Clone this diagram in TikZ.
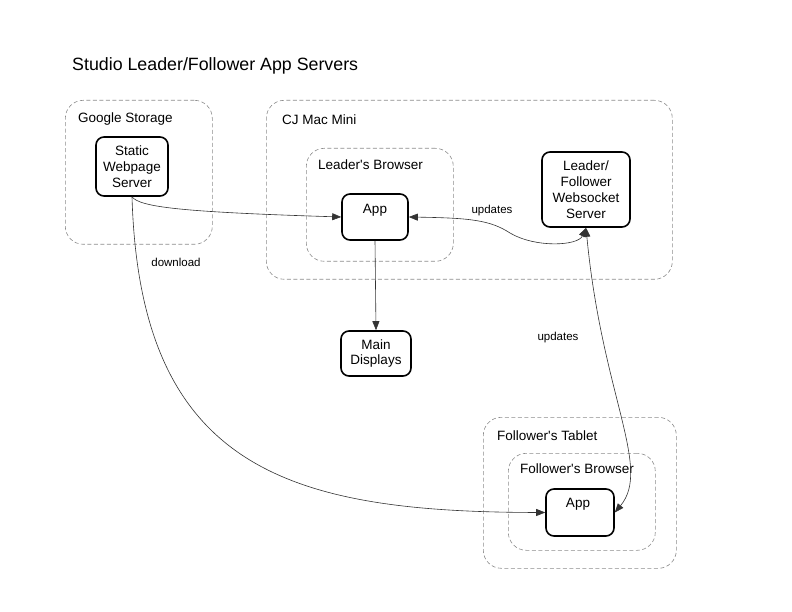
\documentclass[tikz,border=0pt]{standalone}
\usepackage{fontspec}
\setmainfont{Liberation Sans}
\usetikzlibrary{arrows.meta}
\tikzset{
  container/.style={draw=black!45, dash pattern=on 4pt off 2.5pt, rounded corners=18pt, line width=0.6pt, anchor=north west, inner sep=0pt},
  box/.style={draw=black, line width=1.6pt, rounded corners=8pt, align=center, inner sep=0pt, font=\fontsize{13.5}{15.8}\selectfont},
  lab/.style={anchor=west, inner sep=0pt, font=\fontsize{13.5}{15}\selectfont},
  small/.style={inner sep=0pt, font=\fontsize{11.5}{13}\selectfont},
  conn/.style={draw=black!80, line width=0.6pt},
  tipend/.style={-{Triangle[length=9pt,width=7pt]}},
  tipboth/.style={{Triangle[length=9pt,width=7pt]}-{Triangle[length=9pt,width=7pt]}}
}
\begin{document}
\begin{tikzpicture}[x=1pt,y=-1pt]
\useasboundingbox[fill=white] (0,0) rectangle (792,612);

\node[anchor=west, inner sep=0pt, font=\fontsize{17.8}{20}\selectfont] (title) at (72,66) {Studio Leader/Follower App Servers};

% containers
\node[container, minimum width=147pt, minimum height=144pt] (gs) at (65,100) {};
\node[lab] (gsl) at (78,119) {Google Storage};
\node[container, minimum width=406pt, minimum height=179pt] (cj) at (266,100) {};
\node[lab] (cjl) at (282,120) {CJ Mac Mini};
\node[container, minimum width=147pt, minimum height=113pt] (lb) at (306,148) {};
\node[lab] (lbl) at (318,165) {Leader\textquotesingle s Browser};
\node[container, minimum width=193pt, minimum height=151pt] (ft) at (483,417) {};
\node[lab] (ftl) at (497,436) {Follower\textquotesingle s Tablet};
\node[container, minimum width=147pt, minimum height=97pt] (fb) at (508,453) {};
\node[lab] (fbl) at (520,469) {Follower\textquotesingle s Browser};

% boxes
\node[box, minimum width=72pt, minimum height=59pt] (sws) at (132,166.5) {Static\\Webpage\\Server};
\node[box, minimum width=66pt, minimum height=46pt] (app1) at (375,217) {};
\node[box, draw=none] (app1t) at (375,210) {App};
\node[box, minimum width=88pt, minimum height=75pt] (ws) at (586,189.5) {Leader/\\Follower\\Websocket\\Server};
\node[box, minimum width=70pt, minimum height=45pt] (md) at (376,353.5) {Main\\Displays};
\node[box, minimum width=68pt, minimum height=47pt] (app2) at (580,512.5) {};
\node[box, draw=none] (app2t) at (578,504) {App};

% connectors
\draw[conn, tipend] (sws.south) .. controls (140,207) and (180,212) .. (app1.west);
\draw[conn, tipend] (sws.south) .. controls (140,470) and (290,512) .. (app2.west);
\node[small] (dl) at (176,262) {download};
\draw[conn, tipend] (app1.south) -- (md.north);
\draw[conn, tipboth] (app1.east) .. controls (470,218) and (490,220) .. (510,233) .. controls (535,248) and (578,246) .. (ws.south);
\node[small] (up1) at (492,211) {updates};
\draw[conn, tipboth] (ws.south) .. controls (602,395) and (652,468) .. (app2.east);
\node[small] (up2) at (558,338) {updates};
\end{tikzpicture}
\end{document}
